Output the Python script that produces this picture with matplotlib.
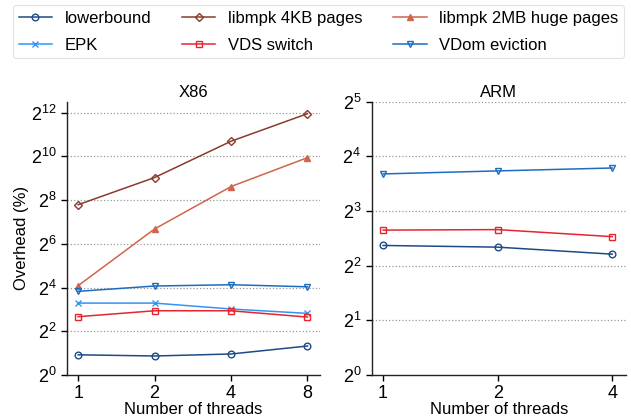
import numpy as np
import matplotlib
matplotlib.use("Agg")
import matplotlib.pyplot as plt

plt.rcParams["font.family"] = ["Liberation Sans", "DejaVu Sans"]
plt.rcParams["mathtext.fontset"] = "custom"
plt.rcParams["mathtext.rm"] = "Liberation Sans"
plt.rcParams["mathtext.it"] = "Liberation Sans"
plt.rcParams["mathtext.default"] = "regular"

# ---------------------------------------------------------------- data (overhead %)
x86_threads = ["1", "2", "4", "8"]
arm_threads = ["1", "2", "4"]

x86_lowerbound = [1.90, 1.83, 1.95, 2.51]
x86_libmpk_4kb = [221, 523, 1652, 3958]
x86_libmpk_2mb = [17.0, 102.5, 393, 982]
x86_epk = [9.78, 9.78, 8.11, 7.06]
x86_vds = [6.36, 7.67, 7.67, 6.28]
x86_vdom = [14.2, 16.8, 17.5, 16.4]

arm_lowerbound = [5.17, 5.06, 4.63]
arm_vds = [6.28, 6.32, 5.78]
arm_vdom = [12.8, 13.3, 13.8]

# ---------------------------------------------------------------- styles
sty = {
    "lowerbound":            dict(color="#1f4a85", marker="o"),
    "libmpk 4KB pages":      dict(color="#8a3b2b", marker="D"),
    "libmpk 2MB huge pages": dict(color="#d0654a", marker="^"),
    "EPK":                   dict(color="#3394f5", marker="x"),
    "VDS switch":            dict(color="#e5262f", marker="s"),
    "VDom eviction":         dict(color="#1e6cbf", marker="v"),
}


def draw(ax, name, xs, ys):
    s = sty[name]
    mfc = s["color"] if s["marker"] == "^" else "none"
    return ax.plot(xs, ys, color=s["color"], marker=s["marker"], lw=1.1,
                   ms=4.8 if s["marker"] != "D" else 4.3, mfc=mfc,
                   mec=s["color"], mew=1.0, label=name)[0]


def style(ax, title, ticks_exp, ymax_exp, nx):
    ax.set_yscale("log", base=2)
    ax.set_ylim(1, 2 ** ymax_exp)
    ax.set_yticks([2 ** e for e in ticks_exp])
    ax.set_yticklabels([f"$2^{{{e}}}$" for e in ticks_exp])
    ax.minorticks_off()
    ax.set_xlim(-0.15, nx - 1 + 0.16)
    for sp in ["top", "right"]:
        ax.spines[sp].set_visible(False)
    for sp in ["left", "bottom"]:
        ax.spines[sp].set_linewidth(1.0)
        ax.spines[sp].set_color("#222222")
    ax.tick_params(axis="both", labelsize=13, length=4, width=1, direction="out")
    for e in ticks_exp[1:]:
        ax.axhline(2 ** e, color="#999999", ls=":", lw=0.9, zorder=0)
    ax.set_title(title, fontsize=12, pad=3.5)
    ax.set_xlabel("Number of threads", fontsize=12, labelpad=0)


fig = plt.figure(figsize=(6.31, 4.2), dpi=100)
ax1 = fig.add_axes([0.1057, 0.107, 0.401, 0.651])
ax2 = fig.add_axes([0.589, 0.107, 0.403, 0.651])

p1 = np.arange(len(x86_threads))
h = {}
h["lowerbound"] = draw(ax1, "lowerbound", p1, x86_lowerbound)
h["libmpk 4KB pages"] = draw(ax1, "libmpk 4KB pages", p1, x86_libmpk_4kb)
h["libmpk 2MB huge pages"] = draw(ax1, "libmpk 2MB huge pages", p1, x86_libmpk_2mb)
h["EPK"] = draw(ax1, "EPK", p1, x86_epk)
h["VDS switch"] = draw(ax1, "VDS switch", p1, x86_vds)
h["VDom eviction"] = draw(ax1, "VDom eviction", p1, x86_vdom)
ax1.set_xticks(p1, x86_threads)
style(ax1, "X86", [0, 2, 4, 6, 8, 10, 12], 12.5, len(x86_threads))
ax1.set_ylabel("Overhead (%)", fontsize=12, labelpad=1)

p2 = np.arange(len(arm_threads))
draw(ax2, "lowerbound", p2, arm_lowerbound)
draw(ax2, "VDS switch", p2, arm_vds)
draw(ax2, "VDom eviction", p2, arm_vdom)
ax2.set_xticks(p2, arm_threads)
style(ax2, "ARM", [0, 1, 2, 3, 4, 5], 5, len(arm_threads))
ax2.set_xlim(-0.1, 2.12)

order = ["lowerbound", "EPK", "libmpk 4KB pages", "VDS switch",
         "libmpk 2MB huge pages", "VDom eviction"]
leg = fig.legend([h[k] for k in order], order, loc="upper left",
                 bbox_to_anchor=(0.0206, 0.988), borderaxespad=0, ncol=3,
                 fontsize=12, frameon=True, fancybox=True, edgecolor="#dddddd",
                 handlelength=2.0, handletextpad=0.75, columnspacing=1.85,
                 borderpad=0.35, labelspacing=0.7)
leg.get_frame().set_linewidth(0.8)

fig.savefig("out.png", dpi=100)
